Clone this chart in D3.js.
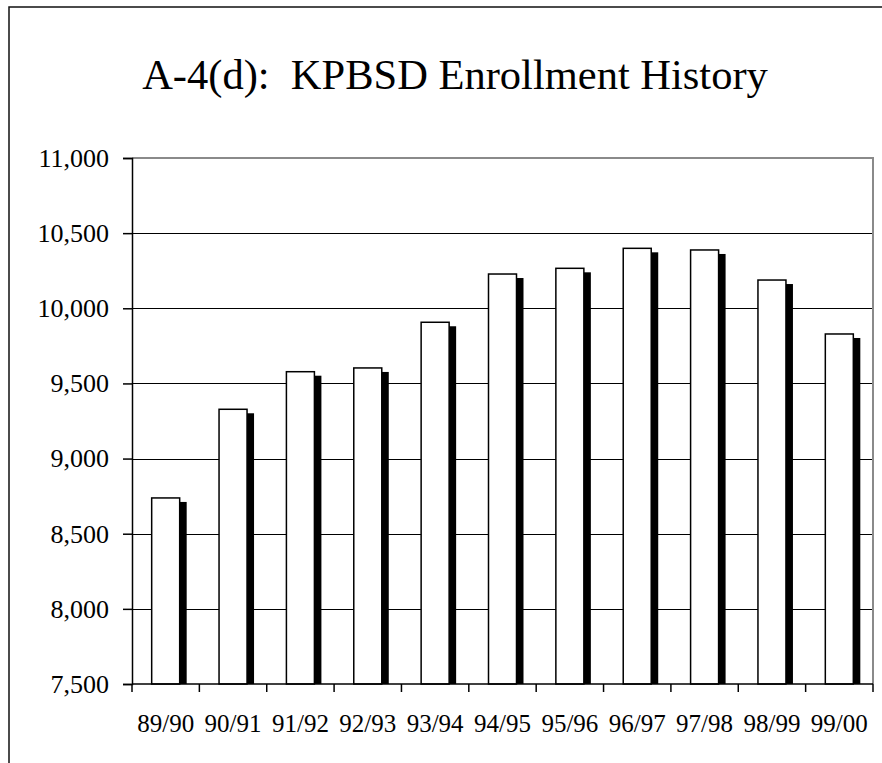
<!DOCTYPE html>
<html>
<head>
<meta charset="utf-8">
<script src="https://cdn.jsdelivr.net/npm/d3@7"></script>
<style>
  body { margin: 0; background: #fff; }
  text { font-family: "Liberation Serif", "Times New Roman", serif; fill: #000; }
</style>
</head>
<body>
<script>
var w = 882;
var h = 763;

// school years and enrollment counts
var years = ["89/90", "90/91", "91/92", "92/93", "93/94", "94/95", "95/96", "96/97", "97/98", "98/99", "99/00"];
var enrollment = [8738, 9328, 9578, 9603, 9907, 10228, 10266, 10399, 10388, 10188, 9829];
var yTicks = [7500, 8000, 8500, 9000, 9500, 10000, 10500, 11000];

var plot = {left: 132, right: 873, top: 158, bottom: 684};
var barW = 28;
var shadowDx = 7, shadowDy = 4;

var svg = d3.select("body")
    .append("svg")
    .attr("width", w)
    .attr("height", h);

// outer frame (runs off the right / bottom edge)
svg.append("rect")
    .attr("x", 9)
    .attr("y", 7)
    .attr("width", 900)
    .attr("height", 800)
    .attr("fill", "#fff")
    .attr("stroke", "#111")
    .attr("stroke-width", 1.5);

svg.append("text")
    .attr("x", 455)
    .attr("y", 89)
    .attr("text-anchor", "middle")
    .style("font-size", "42.5px")
    .style("white-space", "pre")
    .text("A-4(d):  KPBSD Enrollment History");

var x = d3.scaleBand()
    .domain(years)
    .range([plot.left, plot.right])
    .padding(0);

var y = d3.scaleLinear()
    .domain([7500, 11000])
    .range([plot.bottom, plot.top]);

// gridlines
svg.append("g")
    .selectAll("line")
    .data(yTicks.slice(1, -1))
    .enter()
    .append("line")
    .attr("x1", plot.left)
    .attr("x2", plot.right)
    .attr("y1", d => Math.round(y(d)) + 0.5)
    .attr("y2", d => Math.round(y(d)) + 0.5)
    .attr("stroke", "#000")
    .attr("stroke-width", 1);

// plot area border (grey top + right)
svg.append("path")
    .attr("d", d3.line()([[plot.left, y(11000)], [plot.right, y(11000)], [plot.right, plot.bottom]]))
    .attr("fill", "none")
    .attr("stroke", "#8a8a8a")
    .attr("stroke-width", 2);

var bars = svg.append("g");

// drop shadows
bars.selectAll("rect.shadow")
    .data(enrollment)
    .enter()
    .append("rect")
    .attr("class", "shadow")
    .attr("x", (d, i) => x(years[i]) + x.bandwidth() / 2 - barW / 2 + shadowDx)
    .attr("y", d => y(d) + shadowDy)
    .attr("width", barW)
    .attr("height", d => y(7500) - y(d) - shadowDy)
    .attr("fill", "#000");

// white bars
bars.selectAll("rect.bar")
    .data(enrollment)
    .enter()
    .append("rect")
    .attr("class", "bar")
    .attr("x", (d, i) => x(years[i]) + x.bandwidth() / 2 - barW / 2)
    .attr("y", d => y(d))
    .attr("width", barW)
    .attr("height", d => y(7500) - y(d))
    .attr("fill", "#fff")
    .attr("stroke", "#000")
    .attr("stroke-width", 1.5);

// y axis
var yAxis = svg.append("g")
    .attr("transform", "translate(" + plot.left + ",0)")
    .call(d3.axisLeft(y)
        .tickValues(yTicks)
        .tickFormat(d3.format(","))
        .tickSize(9)
        .tickPadding(14));
yAxis.select(".domain").attr("stroke", "#000").attr("stroke-width", 1.5);
yAxis.selectAll("line").attr("stroke", "#000").attr("stroke-width", 1.5);
yAxis.selectAll("text")
    .style("font-family", "Liberation Serif")
    .style("font-size", "26px");

// x axis: labels centred on categories, ticks on category boundaries
var xAxis = svg.append("g")
    .attr("transform", "translate(0," + plot.bottom + ")")
    .call(d3.axisBottom(x).tickSize(0).tickPadding(30));
xAxis.select(".domain").remove();
xAxis.selectAll("text")
    .style("font-family", "Liberation Serif")
    .style("font-size", "25px");

var bounds = years.map(d => x(d)).concat([plot.right]);
svg.append("line")
    .attr("x1", plot.left)
    .attr("x2", plot.right)
    .attr("y1", plot.bottom)
    .attr("y2", plot.bottom)
    .attr("stroke", "#000")
    .attr("stroke-width", 1.5);
svg.append("g")
    .selectAll("line")
    .data(bounds)
    .enter()
    .append("line")
    .attr("x1", d => d)
    .attr("x2", d => d)
    .attr("y1", plot.bottom)
    .attr("y2", plot.bottom + 8)
    .attr("stroke", "#000")
    .attr("stroke-width", 1.5);
</script>
</body>
</html>
